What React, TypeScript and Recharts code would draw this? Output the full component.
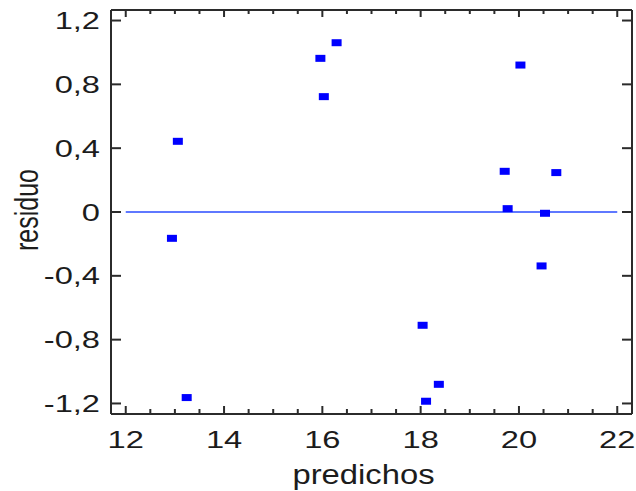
import React from "react"
import { ScatterChart, Scatter, XAxis, YAxis, ReferenceLine } from "recharts"

// residual plot: residuo vs predichos
const predichos = [12.94, 13.06, 13.24, 15.96, 16.03, 16.29, 18.04, 18.11, 18.37, 19.71, 19.77, 20.03, 20.46, 20.53, 20.76]
const residuos = [-0.165, 0.443, -1.163, 0.963, 0.723, 1.061, -0.71, -1.186, -1.08, 0.255, 0.021, 0.921, -0.338, -0.008, 0.247]

const xTicks = [12, 12.5, 13, 13.5, 14, 14.5, 15, 15.5, 16, 16.5, 17, 17.5, 18, 18.5, 19, 19.5, 20, 20.5, 21, 21.5, 22]
const yTicks = [-1.2, -0.8, -0.4, 0, 0.4, 0.8, 1.2]

const data = predichos.map((x, i) => ({ x, y: residuos[i] }))

const FONT = "'Liberation Sans', Arial, sans-serif"
const INK = "#1c1c1c"
const FRAME = "#2b2b2b"
// recharts puts custom tick at tickSize + tickMargin away from the axis line
const TS = 8
const TM = 2
const OFF = TS + TM

const fmtY = (v: number) => (v === 0 ? "0" : v.toFixed(1).replace(".", ","))
const isMajor = (v: number) => Math.abs(v % 2) < 1e-6

function BottomTick(props: any) {
  const { x, payload } = props
  const y = props.y - OFF
  const major = isMajor(payload.value)
  return (
    <g>
      <line x1={x} x2={x} y1={y} y2={y - (major ? 8 : 5)} stroke={FRAME} strokeWidth={2} />
      {major && (
        <text
          transform={`translate(${x},${y + 34}) scale(1.36,1)`}
          textAnchor="middle"
          fontSize={24}
          fontFamily={FONT}
          fill={INK}
        >
          {payload.value}
        </text>
      )}
    </g>
  )
}

function TopTick(props: any) {
  const { x, payload } = props
  const y = props.y + OFF
  const major = isMajor(payload.value)
  return <line x1={x} x2={x} y1={y} y2={y + (major ? 7 : 4)} stroke={FRAME} strokeWidth={2} />
}

function LeftTick(props: any) {
  const { y, payload } = props
  const x = props.x + OFF
  return (
    <g>
      <line x1={x} x2={x + 10} y1={y} y2={y} stroke={FRAME} strokeWidth={2} />
      <text
        transform={`translate(${x - 11},${y + 8.6}) scale(1.36,1)`}
        textAnchor="end"
        fontSize={24}
        fontFamily={FONT}
        fill={INK}
      >
        {fmtY(payload.value)}
      </text>
    </g>
  )
}

function RightTick(props: any) {
  const { y } = props
  const x = props.x - OFF
  return <line x1={x} x2={x - 10} y1={y} y2={y} stroke={FRAME} strokeWidth={2} />
}

const Marker = (props: any) => {
  const { cx, cy } = props
  return <rect x={cx - 5} y={cy - 3.5} width={10} height={7} fill="#0000ff" />
}

const axisCommon = {
  type: "number" as const,
  interval: 0 as const,
  allowDataOverflow: true,
  tickSize: TS,
  tickMargin: TM,
  tickLine: false,
  axisLine: { stroke: FRAME, strokeWidth: 2 }
}

export default function App() {
  return (
    <div style={{ position: "absolute", left: 0, top: 0, width: 636, height: 491, background: "#fff" }}>
      <ScatterChart width={636} height={491} margin={{ top: 9, right: 3, bottom: 0, left: 0 }}>
        <XAxis
          {...axisCommon}
          xAxisId="b"
          dataKey="x"
          domain={[11.7, 22.3]}
          ticks={xTicks}
          height={77}
          tick={<BottomTick />}
          label={{
            content: (p: any) => {
              const vb = p.viewBox
              return (
                <text
                  transform={`translate(${vb.x + vb.width / 2 - 8},${vb.y + 70}) scale(1.17,1)`}
                  textAnchor="middle"
                  fontSize={28}
                  fontFamily={FONT}
                  fill={INK}
                >
                  predichos
                </text>
              )
            }
          }}
        />
        <XAxis
          {...axisCommon}
          xAxisId="t"
          orientation="top"
          dataKey="x"
          domain={[11.7, 22.3]}
          ticks={xTicks}
          height={1}
          tick={<TopTick />}
        />
        <YAxis
          {...axisCommon}
          yAxisId="l"
          dataKey="y"
          domain={[-1.266, 1.266]}
          ticks={yTicks}
          width={111}
          tick={<LeftTick />}
          label={{
            content: (p: any) => {
              const vb = p.viewBox
              return (
                <text
                  transform={`translate(37.5,${vb.y + vb.height / 2 - 2}) rotate(-90) scale(1,1.35)`}
                  textAnchor="middle"
                  fontSize={25}
                  fontFamily={FONT}
                  fill={INK}
                >
                  residuo
                </text>
              )
            }
          }}
        />
        <YAxis
          {...axisCommon}
          yAxisId="r"
          orientation="right"
          dataKey="y"
          domain={[-1.266, 1.266]}
          ticks={yTicks}
          width={1}
          tick={<RightTick />}
        />
        <ReferenceLine
          xAxisId="b"
          yAxisId="l"
          segment={[{ x: 12, y: 0 }, { x: 22, y: 0 }]}
          stroke="#2a4bff"
          strokeWidth={1.3}
        />
        <Scatter
          xAxisId="b"
          yAxisId="l"
          data={data}
          shape={Marker}
          isAnimationActive={false}
        />
        <Scatter
          xAxisId="t"
          yAxisId="r"
          data={data}
          shape={() => null}
          isAnimationActive={false}
        />
      </ScatterChart>
    </div>
  )
}
